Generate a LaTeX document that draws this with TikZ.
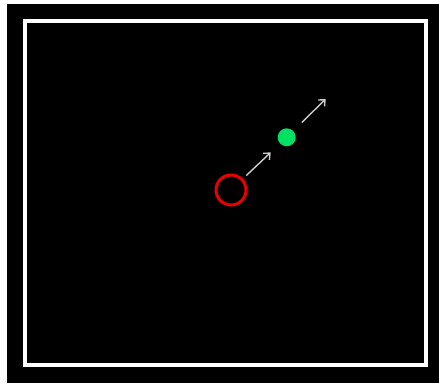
\documentclass[tikz,border=0pt]{standalone}
\usetikzlibrary{arrows.meta}
\definecolor{ringred}{RGB}{235,0,0}
\definecolor{dotgreen}{RGB}{0,225,100}
\definecolor{arrgray}{RGB}{205,205,205}
\begin{document}
\begin{tikzpicture}[x=1pt,y=-1pt,
  ring/.style={circle,draw=ringred,line width=3pt,minimum size=30pt,inner sep=0pt},
  dot/.style={circle,fill=dotgreen,minimum size=18pt,inner sep=0pt,outer sep=0pt},
  arr/.style={draw=arrgray,line width=1.4pt,-{Straight Barb[length=5pt,width=9pt]}},
  frame/.style={draw=white,line width=4pt}]
\useasboundingbox (0,0) rectangle (439,383);
\fill[white] (0,0) rectangle (439,383);
\fill[black] (7,4) rectangle (439,383);
\draw[frame] (25,21) rectangle (426,365);
\node[ring] (red) at (231,190) {};
\node[dot] (green) at (286.7,137.3) {};
\coordinate (tip) at (325.7,99);
\draw[arr,shorten <=4.7pt,shorten >=13pt] (red) -- (green);
\draw[arr,shorten <=12.2pt] (green) -- (tip);
\end{tikzpicture}
\end{document}
